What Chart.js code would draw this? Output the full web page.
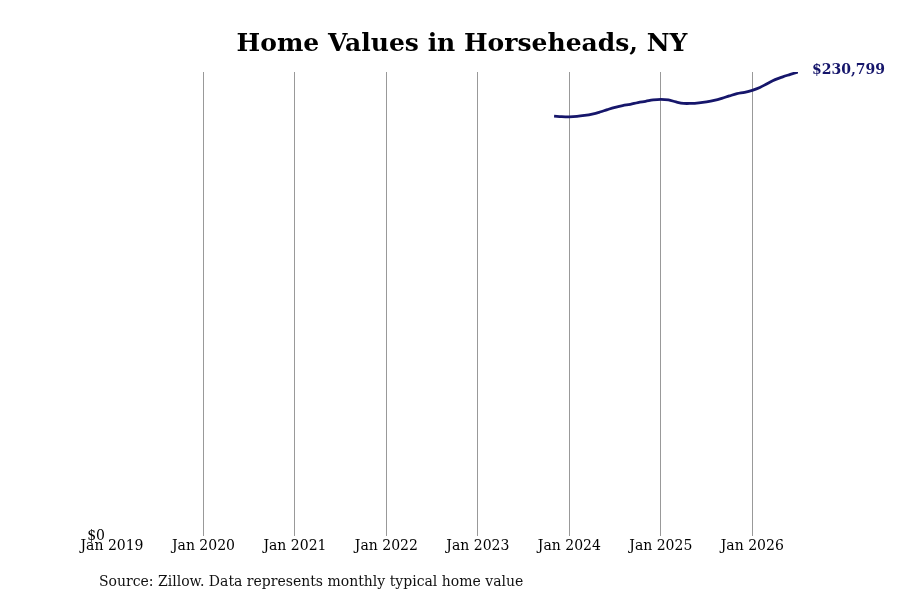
<!DOCTYPE html>
<html>
<head>
<meta charset="utf-8">
<script src="https://cdn.jsdelivr.net/npm/chart.js@4/dist/chart.umd.min.js"></script>
<style>
  html, body { margin: 0; padding: 0; background: #fff; }
  #wrap { width: 900px; height: 600px; position: relative; }
</style>
</head>
<body>
<div id="wrap"><canvas id="chart" width="900" height="600"></canvas></div>
<script>
// Typical home value, monthly
const months = [
  "2023-11", "2023-12",
  "2024-01", "2024-02", "2024-03", "2024-04", "2024-05", "2024-06",
  "2024-07", "2024-08", "2024-09", "2024-10", "2024-11", "2024-12",
  "2025-01", "2025-02", "2025-03", "2025-04", "2025-05", "2025-06",
  "2025-07", "2025-08", "2025-09", "2025-10", "2025-11", "2025-12",
  "2026-01", "2026-02", "2026-03", "2026-04", "2026-05", "2026-06",
  "2026-07"
];
const homeValues = [
  208900, 208600,
  208500, 208700, 209200, 209900, 210900, 212100,
  213200, 214100, 214700, 215600, 216200, 216900,
  217200, 216900, 215900, 215200, 215200, 215500,
  216000, 216700, 217700, 218900, 220000, 220700,
  221700, 223100, 225100, 227000, 228400, 229600,
  230799
];
const tickYears = [2019, 2020, 2021, 2022, 2023, 2024, 2025, 2026];

const startYear = 2019;
const serif = "'DejaVu Serif', serif";
const lineColor = "#16166b";

// months since Jan 2019
function monthIndex(s) {
  const [y, m] = s.split("-").map(Number);
  return (y - startYear) * 12 + (m - 1);
}

const points = months.map((m, i) => ({ x: monthIndex(m), y: homeValues[i] }));

// title, end label and source note
const extraText = {
  id: "extraText",
  afterDraw(chart) {
    const ctx = chart.ctx;
    const meta = chart.getDatasetMeta(0);
    const last = meta.data[meta.data.length - 1];
    const lastVal = homeValues[homeValues.length - 1];
    ctx.save();
    ctx.textBaseline = "middle";

    ctx.font = "bold 25px " + serif;
    ctx.fillStyle = "#000";
    ctx.textAlign = "center";
    ctx.fillText("Home Values in Horseheads, NY", 462, 44);

    ctx.textAlign = "left";
    ctx.font = "bold 14px " + serif;
    ctx.fillStyle = lineColor;
    ctx.fillText("$" + lastVal.toLocaleString("en-US"), last.x + 14, last.y - 2);

    ctx.font = "14px " + serif;
    ctx.fillStyle = "#111";
    ctx.fillText("Source: Zillow. Data represents monthly typical home value", 99, 582);
    ctx.restore();
  }
};

new Chart(document.getElementById("chart"), {
  type: "line",
  data: {
    datasets: [{
      data: points,
      borderColor: lineColor,
      borderWidth: 2.8,
      pointRadius: 0,
      fill: false,
      tension: 0.4
    }]
  },
  options: {
    responsive: false,
    animation: false,
    layout: { padding: { left: 84, right: 102, top: 72, bottom: 43 } },
    plugins: {
      legend: { display: false },
      tooltip: { enabled: false },
      title: { display: false }
    },
    scales: {
      x: {
        type: "linear",
        min: 0,
        max: monthIndex("2026-07"),
        afterBuildTicks(scale) {
          scale.ticks = tickYears.map(y => ({ value: (y - startYear) * 12 }));
        },
        ticks: {
          autoSkip: false,
          maxRotation: 0,
          padding: 2,
          color: "#000",
          font: { family: serif, size: 14 },
          callback: v => "Jan " + (startYear + Math.round(v / 12))
        },
        grid: {
          drawTicks: false,
          color: ctx => ctx.index === 0 ? "rgba(0,0,0,0)" : "#999",
          lineWidth: 1
        },
        border: { display: false }
      },
      y: {
        min: 0,
        max: 230799,
        afterBuildTicks(scale) {
          scale.ticks = [{ value: 0 }];
        },
        afterFit(scale) { scale.width = 28; },
        ticks: {
          padding: -1,
          color: "#000",
          font: { family: serif, size: 14 },
          callback: v => "$" + v
        },
        grid: { display: false },
        border: { display: false }
      }
    }
  },
  plugins: [extraText]
});
</script>
</body>
</html>
